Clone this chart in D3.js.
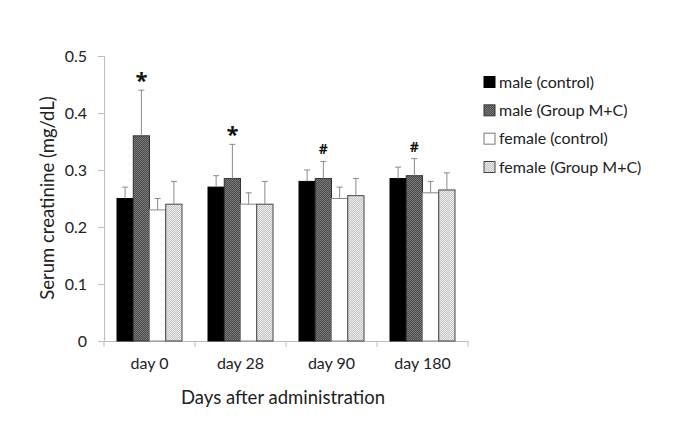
<!DOCTYPE html>
<html><head><meta charset="utf-8">
<script src="https://cdn.jsdelivr.net/npm/d3@7"></script>
<style>body{margin:0;background:#fff;} svg{display:block;font-family:Lato,"Open Sans",sans-serif;}</style>
</head><body><svg id="c" width="685" height="427"></svg>
<script>
const categories = ["day 0", "day 28", "day 90", "day 180"];
const seriesNames = ["male (control)", "male (Group M+C)", "female (control)", "female (Group M+C)"];
const maleControl = [0.25, 0.27, 0.28, 0.285];
const maleMC = [0.36, 0.285, 0.285, 0.29];
const femaleControl = [0.23, 0.24, 0.25, 0.26];
const femaleMC = [0.24, 0.24, 0.255, 0.265];
const maleControlErr = [0.02, 0.02, 0.02, 0.02];
const maleMCErr = [0.08, 0.06, 0.03, 0.03];
const femaleControlErr = [0.02, 0.02, 0.02, 0.02];
const femaleMCErr = [0.04, 0.04, 0.03, 0.03];
const markers = ["*", "*", "#", "#"];
const yTicks = [0, 0.1, 0.2, 0.3, 0.4, 0.5];

const values = [maleControl, maleMC, femaleControl, femaleMC];
const errs = [maleControlErr, maleMCErr, femaleControlErr, femaleMCErr];

const svg = d3.select("#c");
const defs = svg.append("defs");
function checker(id, a, b) {
  const p = defs.append("pattern").attr("id", id).attr("width", 2).attr("height", 2).attr("patternUnits", "userSpaceOnUse");
  p.append("rect").attr("width", 2).attr("height", 2).attr("fill", a);
  p.append("rect").attr("width", 1).attr("height", 1).attr("fill", b);
  p.append("rect").attr("x", 1).attr("y", 1).attr("width", 1).attr("height", 1).attr("fill", b);
}
checker("pDark", "#4a4a4a", "#7a7a7a");
checker("pLight", "#c4c4c4", "#ececec");
const fills = ["#000", "url(#pDark)", "#fff", "url(#pLight)"];
const strokes = ["#000", "#333", "#888", "#444"];

const y = d3.scaleLinear().domain([0, 0.5]).range([341, 56]);
const x0 = d3.scaleBand().domain(categories).range([104, 468]).padding(0);
const x1 = d3.scaleBand().domain(seriesNames).range([13, x0.bandwidth() - 13]).padding(0);

// y axis
const yAxis = svg.append("g").attr("transform", "translate(104,0)")
  .call(d3.axisLeft(y).tickValues(yTicks).tickFormat(d => d === 0 ? "0" : d3.format(".1f")(d)).tickSize(6).tickPadding(11));
yAxis.select(".domain").attr("stroke", "#bdbdbd");
yAxis.selectAll(".tick line").attr("stroke", "#bdbdbd");
yAxis.selectAll("text").attr("font-size", 16).attr("fill", "#222").attr("font-family", "Lato");

// x axis
const xAxis = svg.append("g").attr("transform", "translate(0,341)")
  .call(d3.axisBottom(x0).tickSize(0).tickPadding(17));
xAxis.select(".domain").attr("stroke", "#bdbdbd");
xAxis.selectAll("text").attr("font-size", 16).attr("fill", "#222").attr("font-family", "Lato");
// category separators
const seps = categories.map(c => x0(c)).concat([x0(categories[categories.length - 1]) + x0.bandwidth()]);
xAxis.selectAll("line.sep").data(seps).enter().append("line").attr("class", "sep")
  .attr("x1", d => d).attr("x2", d => d).attr("y1", 0).attr("y2", 6).attr("stroke", "#bdbdbd");

// bars
seriesNames.forEach((s, si) => {
  const g = svg.append("g");
  g.selectAll("rect").data(categories).enter().append("rect")
    .attr("x", (c) => x0(c) + x1(s))
    .attr("y", (c, i) => y(values[si][i]))
    .attr("width", x1.bandwidth())
    .attr("height", (c, i) => y(0) - y(values[si][i]))
    .attr("fill", fills[si])
    .attr("stroke", strokes[si]).attr("stroke-width", 1);
  // error bars
  g.selectAll("line.e").data(categories).enter().append("line").attr("class", "e")
    .attr("x1", c => x0(c) + x1(s) + x1.bandwidth() / 2)
    .attr("x2", c => x0(c) + x1(s) + x1.bandwidth() / 2)
    .attr("y1", (c, i) => y(values[si][i]))
    .attr("y2", (c, i) => y(values[si][i] + errs[si][i]))
    .attr("stroke", "#8a8a8a").attr("stroke-width", 1);
  g.selectAll("line.cap").data(categories).enter().append("line").attr("class", "cap")
    .attr("x1", c => x0(c) + x1(s) + x1.bandwidth() / 2 - 3)
    .attr("x2", c => x0(c) + x1(s) + x1.bandwidth() / 2 + 3)
    .attr("y1", (c, i) => y(values[si][i] + errs[si][i]))
    .attr("y2", (c, i) => y(values[si][i] + errs[si][i]))
    .attr("stroke", "#8a8a8a").attr("stroke-width", 1);
});

// significance markers
svg.append("g").selectAll("text").data(categories).enter().append("text")
  .attr("x", c => x0(c) + x1(seriesNames[1]) + x1.bandwidth() / 2)
  .attr("y", (c, i) => y(maleMC[i] + maleMCErr[i]) - (markers[i] === "*" ? 2 : 7))
  .attr("text-anchor", "middle")
  .attr("font-family", "Open Sans")
  .attr("font-size", (c, i) => markers[i] === "*" ? 22 : 14)
  .attr("font-weight", "bold").attr("fill", "#111")
  .text((c, i) => markers[i]);

// axis titles
svg.append("text").attr("transform", "translate(54,198) rotate(-90)").attr("text-anchor", "middle")
  .attr("font-size", 18.5).attr("fill", "#222").text("Serum creatinine (mg/dL)");
svg.append("text").attr("x", 283).attr("y", 404).attr("text-anchor", "middle")
  .attr("font-size", 18.5).attr("fill", "#222").text("Days after administration");

// legend
const leg = svg.append("g").attr("transform", "translate(484,0)");
const ly = d3.scalePoint().domain(seriesNames).range([82, 167]);
seriesNames.forEach((s, si) => {
  leg.append("rect").attr("x", 0).attr("y", ly(s) - 5.5).attr("width", 11).attr("height", 11)
    .attr("fill", fills[si]).attr("stroke", si === 2 ? "#777" : strokes[si]);
  leg.append("text").attr("x", 15).attr("y", ly(s)).attr("dy", "0.35em")
    .attr("font-size", 16).attr("fill", "#222").text(s);
});
</script></body></html>
